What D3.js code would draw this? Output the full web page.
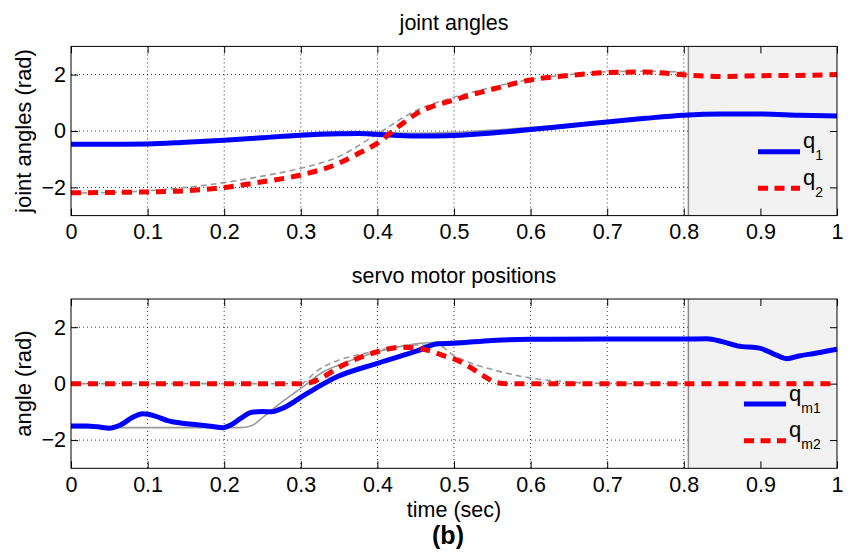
<!DOCTYPE html>
<html>
<head>
<meta charset="utf-8">
<script src="https://cdn.jsdelivr.net/npm/d3@7"></script>
<style>
  body { margin: 0; background: #fff; }
  svg { display: block; }
  text { font-family: "Liberation Sans", Arial, Helvetica, sans-serif; fill: #000; }
</style>
</head>
<body>
<div id="chart"></div>
<script>
// ticks
const xTicks = [0, 0.1, 0.2, 0.3, 0.4, 0.5, 0.6, 0.7, 0.8, 0.9, 1];
const yTicks = [-2, 0, 2];
const shadeStart = 0.806;

// joint angles
const tQ1 = [0, 0.05, 0.1, 0.15, 0.2, 0.25, 0.3, 0.35, 0.375, 0.4, 0.45, 0.5, 0.55, 0.6, 0.65, 0.7, 0.75, 0.8, 0.85, 0.9, 0.95, 1.0];
const q1  = [-0.47, -0.47, -0.46, -0.40, -0.33, -0.24, -0.15, -0.10, -0.09, -0.12, -0.18, -0.16, -0.07, 0.05, 0.19, 0.32, 0.45, 0.56, 0.6, 0.6, 0.56, 0.53];
const tQ1ref = [0, 0.05, 0.1, 0.15, 0.2, 0.25, 0.3, 0.35, 0.4, 0.45, 0.5, 0.55, 0.6, 0.65, 0.7, 0.75, 0.806];
const q1ref  = [-0.47, -0.47, -0.45, -0.38, -0.29, -0.19, -0.09, -0.04, -0.05, -0.08, -0.05, 0.03, 0.12, 0.23, 0.35, 0.46, 0.56];
const tQ2 = [0, 0.05, 0.1, 0.15, 0.2, 0.25, 0.3, 0.35, 0.375, 0.4, 0.425, 0.45, 0.5, 0.55, 0.6, 0.65, 0.7, 0.75, 0.8, 0.85, 0.9, 0.95, 1.0];
const q2  = [-2.19, -2.18, -2.16, -2.12, -2.0, -1.8, -1.56, -1.14, -0.8, -0.43, 0.1, 0.6, 1.1, 1.48, 1.81, 1.97, 2.07, 2.09, 1.99, 1.93, 1.96, 1.97, 2.0];
const tQ2ref = [0, 0.05, 0.1, 0.15, 0.2, 0.25, 0.3, 0.35, 0.4, 0.45, 0.5, 0.55, 0.6, 0.65, 0.7, 0.75, 0.806];
const q2ref  = [-2.2, -2.18, -2.12, -2.0, -1.83, -1.6, -1.32, -0.9, -0.1, 0.72, 1.2, 1.55, 1.83, 2.0, 2.1, 2.12, 2.08];

// servo motor positions
const tQm1 = [0, 0.02, 0.035, 0.05, 0.065, 0.08, 0.094, 0.11, 0.126, 0.145, 0.165, 0.185, 0.198, 0.209, 0.222, 0.235, 0.25, 0.261, 0.278, 0.305, 0.348, 0.4, 0.453, 0.479, 0.5, 0.55, 0.6, 0.7, 0.8, 0.83, 0.85, 0.87, 0.9, 0.92, 0.935, 0.95, 0.97, 1.0];
const qm1  = [-1.5, -1.5, -1.53, -1.58, -1.46, -1.2, -1.07, -1.15, -1.31, -1.4, -1.46, -1.52, -1.56, -1.46, -1.22, -1.02, -0.99, -1.0, -0.85, -0.4, 0.25, 0.72, 1.17, 1.41, 1.43, 1.53, 1.57, 1.58, 1.58, 1.59, 1.49, 1.34, 1.25, 1.02, 0.88, 0.98, 1.07, 1.22];
const tQm1ref = [0, 0.05, 0.1, 0.15, 0.2, 0.22, 0.235, 0.252, 0.27, 0.3, 0.33, 0.35, 0.4, 0.45, 0.5, 0.55, 0.6, 0.7, 0.806];
const qm1ref  = [-1.56, -1.56, -1.56, -1.56, -1.56, -1.56, -1.5, -1.16, -0.76, -0.17, 0.43, 0.66, 1.13, 1.41, 1.5, 1.55, 1.57, 1.58, 1.58];
const tQm2 = [0, 0.1, 0.2, 0.3, 0.31, 0.33, 0.35, 0.375, 0.4, 0.43, 0.45, 0.47, 0.49, 0.5, 0.52, 0.54, 0.555, 0.57, 0.6, 0.7, 0.8, 0.9, 1.0];
const qm2  = [0, 0, 0, 0, 0.02, 0.25, 0.58, 0.9, 1.13, 1.29, 1.27, 1.15, 0.96, 0.88, 0.6, 0.25, 0.04, 0, 0, 0, 0, 0, 0];
const tQm2ref = [0, 0.1, 0.2, 0.3, 0.32, 0.35, 0.375, 0.4, 0.45, 0.48, 0.5, 0.52, 0.55, 0.6, 0.65, 0.7, 0.75, 0.806];
const qm2ref  = [0, 0, 0, 0, 0.43, 0.84, 1.02, 1.17, 1.37, 1.35, 1.0, 0.75, 0.5, 0.2, 0.06, 0.01, 0, 0];

const W = 850, H = 554;
const svg = d3.select('#chart').append('svg').attr('width', W).attr('height', H);

const x = d3.scaleLinear().domain([0, 1]).range([71, 837]);
const fmt = d3.format('~g');

function zip(t, v) { return t.map((d, i) => ({ t: d, v: v[i] })); }

function drawPanel(opt) {
  const y = d3.scaleLinear().domain([-3, 3]).range([opt.bottom, opt.top]);
  const g = svg.append('g');
  const line = d3.line().x(d => x(d.t)).y(d => y(d.v)).curve(d3.curveMonotoneX);

  // dotted grid
  g.append('g').selectAll('line').data(xTicks.slice(1, -1)).join('line')
    .attr('x1', d => x(d)).attr('x2', d => x(d))
    .attr('y1', opt.top).attr('y2', opt.bottom)
    .attr('stroke', '#000').attr('stroke-width', 0.8).attr('stroke-dasharray', '1,3');
  g.append('g').selectAll('line').data(yTicks).join('line')
    .attr('x1', x(0)).attr('x2', x(1))
    .attr('y1', d => y(d)).attr('y2', d => y(d))
    .attr('stroke', '#000').attr('stroke-width', 0.8).attr('stroke-dasharray', '1,3');

  // shaded region
  g.append('rect')
    .attr('x', x(shadeStart)).attr('y', opt.top)
    .attr('width', x(1) - x(shadeStart)).attr('height', opt.bottom - opt.top)
    .attr('fill', '#f2f2f2');
  g.append('line')
    .attr('x1', x(shadeStart)).attr('x2', x(shadeStart))
    .attr('y1', opt.top).attr('y2', opt.bottom)
    .attr('stroke', '#8a8a8a').attr('stroke-width', 1.5);

  // axes (ticks inward)
  const xb = g.append('g').attr('transform', `translate(0,${opt.bottom})`)
    .call(d3.axisBottom(x).tickValues(xTicks).tickSize(-7).tickSizeOuter(0).tickPadding(8.5)
      .tickFormat(fmt));
  const xt = g.append('g').attr('transform', `translate(0,${opt.top})`)
    .call(d3.axisTop(x).tickValues(xTicks).tickSize(-7).tickSizeOuter(0).tickFormat(''));
  const yl = g.append('g').attr('transform', `translate(${x(0)},0)`)
    .call(d3.axisLeft(y).tickValues(yTicks).tickSize(-7).tickSizeOuter(0).tickPadding(5)
      .tickFormat(fmt));
  const yr = g.append('g').attr('transform', `translate(${x(1)},0)`)
    .call(d3.axisRight(y).tickValues(yTicks).tickSize(-7).tickSizeOuter(0).tickFormat(''));
  [xb, xt, yl, yr].forEach(a => {
    a.select('.domain').remove();
    a.selectAll('.tick line').attr('stroke', '#000').attr('stroke-width', 1);
    a.selectAll('.tick text').attr('font-size', 21.5).attr('font-family', '"Liberation Sans", Arial, sans-serif');
  });

  // reference curves (grey)
  g.append('path').datum(zip(opt.t1r, opt.v1r)).attr('d', line)
    .attr('fill', 'none').attr('stroke', '#9a9a9a').attr('stroke-width', 1.6);
  g.append('path').datum(zip(opt.t2r, opt.v2r)).attr('d', line)
    .attr('fill', 'none').attr('stroke', '#9a9a9a').attr('stroke-width', 1.6).attr('stroke-dasharray', '6,4');

  // measured curves
  g.append('path').datum(zip(opt.t1, opt.v1)).attr('d', line)
    .attr('fill', 'none').attr('stroke', '#0000ff').attr('stroke-width', 5);
  g.append('path').datum(zip(opt.t2, opt.v2)).attr('d', line)
    .attr('fill', 'none').attr('stroke', '#ff0000').attr('stroke-width', 5).attr('stroke-dasharray', '10,7');

  // box
  g.append('rect')
    .attr('x', x(0)).attr('y', opt.top)
    .attr('width', x(1) - x(0)).attr('height', opt.bottom - opt.top)
    .attr('fill', 'none').attr('stroke', '#000').attr('stroke-width', 1);

  // title & y label
  g.append('text').attr('x', 454).attr('y', opt.top - 16).attr('text-anchor', 'middle')
    .attr('font-size', 21.5).text(opt.title);
  g.append('text').attr('transform', `translate(31,${(opt.top + opt.bottom) / 2}) rotate(-90)`)
    .attr('text-anchor', 'middle').attr('font-size', 22).text(opt.ylabel);

  // legend
  const lg = g.append('g');
  opt.legend.forEach((item, i) => {
    const ly = opt.legY[i];
    lg.append('line').attr('x1', opt.legX).attr('x2', opt.legX + 42)
      .attr('y1', ly).attr('y2', ly)
      .attr('stroke', item.color).attr('stroke-width', 5)
      .attr('stroke-dasharray', item.dash || null);
    const tx = lg.append('text').attr('x', opt.legX + 45).attr('y', ly - 3.5).attr('font-size', 22);
    tx.append('tspan').text('q');
    tx.append('tspan').attr('font-size', 14).attr('dy', 12).text(item.sub);
  });
}

drawPanel({
  top: 46.4, bottom: 215.6, title: 'joint angles', ylabel: 'joint angles (rad)',
  t1: tQ1, v1: q1, t2: tQ2, v2: q2, t1r: tQ1ref, v1r: q1ref, t2r: tQ2ref, v2r: q2ref,
  legX: 758, legY: [151.7, 188.3],
  legend: [{ color: '#0000ff', sub: '1' }, { color: '#ff0000', sub: '2', dash: '10,6.5' }]
});

drawPanel({
  top: 299, bottom: 468.3, title: 'servo motor positions', ylabel: 'angle (rad)',
  t1: tQm1, v1: qm1, t2: tQm2, v2: qm2, t1r: tQm1ref, v1r: qm1ref, t2r: tQm2ref, v2r: qm2ref,
  legX: 744, legY: [404, 440.7],
  legend: [{ color: '#0000ff', sub: 'm1' }, { color: '#ff0000', sub: 'm2', dash: '10,6.5' }]
});

svg.append('text').attr('x', 454).attr('y', 517).attr('text-anchor', 'middle')
  .attr('font-size', 21.5).text('time (sec)');
svg.append('text').attr('x', 448).attr('y', 544).attr('text-anchor', 'middle')
  .attr('font-size', 25).attr('font-weight', 'bold').text('(b)');
</script>
</body>
</html>
